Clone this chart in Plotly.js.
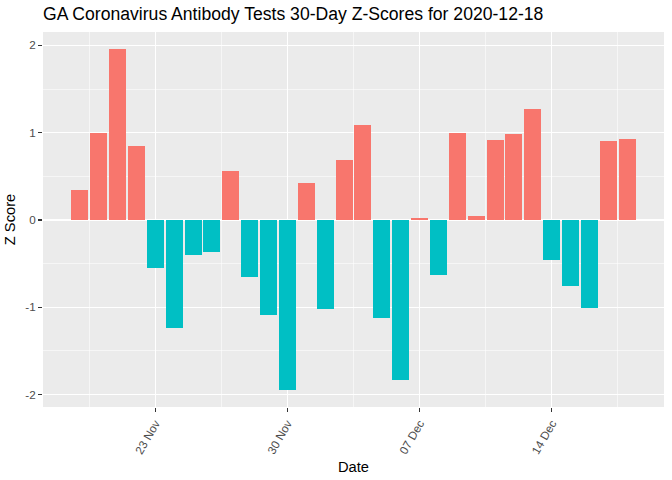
<!DOCTYPE html>
<html>
<head>
<meta charset="utf-8">
<script src="https://cdn.plot.ly/plotly-3.0.1.min.js"></script>
<style>html,body{margin:0;padding:0;background:#fff;}#chart{width:672px;height:480px;}</style>
</head>
<body>
<div id="chart"></div>
<script>
const dates = ["2020-11-19","2020-11-20","2020-11-21","2020-11-22","2020-11-23","2020-11-24","2020-11-25","2020-11-26","2020-11-27","2020-11-28","2020-11-29","2020-11-30","2020-12-01","2020-12-02","2020-12-03","2020-12-04","2020-12-05","2020-12-06","2020-12-07","2020-12-08","2020-12-09","2020-12-10","2020-12-11","2020-12-12","2020-12-13","2020-12-14","2020-12-15","2020-12-16","2020-12-17","2020-12-18"];
const zScores = [0.344,1.0,1.96,0.848,-0.546,-1.233,-0.397,-0.366,0.561,-0.649,-1.084,-1.943,0.424,-1.015,0.687,1.088,-1.119,-1.829,0.023,-0.626,1.0,0.046,0.916,0.985,1.27,-0.454,-0.752,-1.004,0.905,0.928];
const tickDates = ["2020-11-23","2020-11-30","2020-12-07","2020-12-14"];
const tickLabels = ["23 Nov","30 Nov","07 Dec","14 Dec"];
const yTicks = [-2,-1,0,1,2];

const colors = zScores.map(v => v >= 0 ? "#F8766D" : "#00BFC4");
const DAY = 86400000;

const trace = {
  type: "bar",
  x: dates,
  y: zScores,
  width: dates.map(() => 0.9 * DAY),
  marker: {color: colors, line: {width: 0}},
  showlegend: false,
  hoverinfo: "x+y"
};

const font = "Liberation Sans, Arial, sans-serif";
const layout = {
  width: 672, height: 480,
  margin: {l: 43, r: 8, t: 32, b: 73},
  paper_bgcolor: "#ffffff",
  plot_bgcolor: "#EBEBEB",
  font: {family: font, color: "#4D4D4D"},
  title: {
    text: "GA Coronavirus Antibody Tests 30-Day Z-Scores for 2020-12-18",
    font: {family: font, size: 17.6, color: "#000000"},
    xref: "paper", x: 0, xanchor: "left",
    yref: "container", y: 1 - 14/480, yanchor: "middle"
  },
  xaxis: {
    type: "date",
    range: ["2020-11-17 01:19", "2020-12-19 22:41"],
    tickmode: "array",
    tickvals: tickDates,
    ticktext: tickLabels,
    tickangle: -60,
    tickfont: {family: font, size: 11.7, color: "#4D4D4D"},
    ticks: "outside", ticklen: 4, tickcolor: "#333333", tickwidth: 1.07,
    showgrid: true, gridcolor: "#ffffff", gridwidth: 1.07,
    minor: {tickmode: "linear", tick0: "2020-11-19 12:00", dtick: 7 * DAY, showgrid: true, gridcolor: "#ffffff", gridwidth: 0.53, ticks: ""},
    zeroline: false, showline: false,
    title: {text: "Date", font: {family: font, size: 14.7, color: "#000000"}, standoff: 6},
    fixedrange: true
  },
  yaxis: {
    range: [-2.142, 2.153],
    tickmode: "array",
    tickvals: yTicks,
    ticktext: yTicks.map(String),
    tickfont: {family: font, size: 11.7, color: "#4D4D4D"},
    ticks: "outside", ticklen: 4, tickcolor: "#333333", tickwidth: 1.07,
    showgrid: true, gridcolor: "#ffffff", gridwidth: 1.07,
    minor: {tickmode: "linear", tick0: -1.5, dtick: 1, showgrid: true, gridcolor: "#ffffff", gridwidth: 0.53, ticks: ""},
    zeroline: false, showline: false,
    title: {text: "Z Score", font: {family: font, size: 14.7, color: "#000000"}, standoff: 6},
    fixedrange: true
  },
  bargap: 0
};

Plotly.newPlot("chart", [trace], layout, {displayModeBar: false, staticPlot: true});
</script>
</body>
</html>
